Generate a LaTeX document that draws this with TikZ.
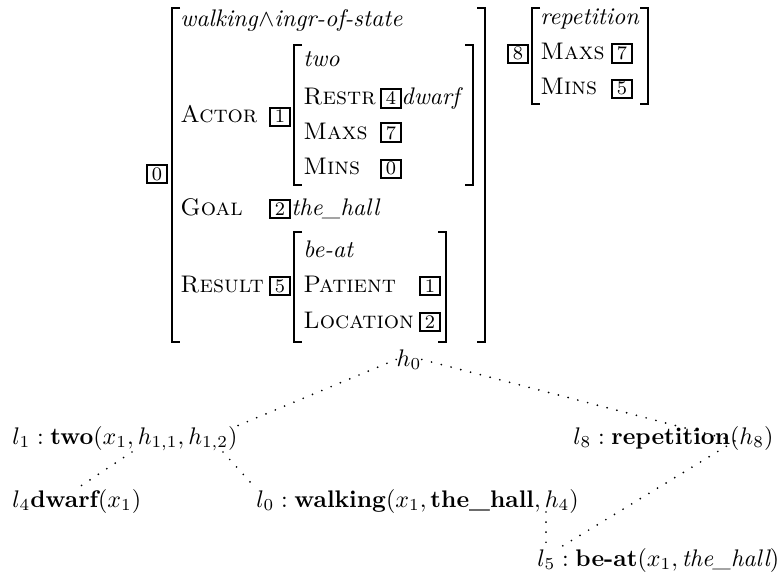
\documentclass[tikz,border=0pt]{standalone}
\usetikzlibrary{calc}
\begin{document}
\begin{tikzpicture}[x=0.41667pt,y=-0.41667pt,
  txt/.style={inner sep=0pt, anchor=base west},
  tag/.style={draw, line width=0.85pt, inner xsep=1.9pt, inner ysep=1.1pt, font=\footnotesize, anchor=base},
  brk/.style={line width=0.5pt},
  con/.style={line width=0.8pt, dash pattern=on 0pt off 4.2pt, line cap=round}]
\useasboundingbox (0,0) rectangle (782,577);

% ---------- main AVM ----------
\draw[brk] (180,8) -- (172,8) -- (172,342) -- (180,342);
\draw[brk] (477,8) -- (485,8) -- (485,342) -- (477,342);
\node[tag] (t0) at (157,180) {0};
\node[txt] (w) at (180,27) {\textit{walking}$\wedge$\textit{ingr-of-state}};
\node[txt] (actor) at (180,123) {\textsc{Actor}};
\node[tag] (t1) at (280,123) {1};
% inner AVM (two)
\draw[brk] (302,45) -- (294,45) -- (294,185) -- (302,185);
\draw[brk] (465,45) -- (473,45) -- (473,185) -- (465,185);
\node[txt] (two) at (303,67) {\textit{two}};
\node[txt] (restr) at (303,105) {\textsc{Restr}};
\node[tag] (t4) at (391,105) {4};
\node[txt] (dwarf) at (401,105) {\textit{dwarf}};
\node[txt] (maxs) at (303,139) {\textsc{Maxs}};
\node[tag] (t7) at (391,139) {7};
\node[txt] (mins) at (303,175) {\textsc{Mins}};
\node[tag] (t0b) at (391,175) {0};
% goal
\node[txt] (goal) at (180,215) {\textsc{Goal}};
\node[tag] (t2) at (280,215) {2};
\node[txt] (hall) at (291,215) {\textit{the\_hall}};
% result
\node[txt] (result) at (180,292) {\textsc{Result}};
\node[tag] (t5) at (280,292) {5};
\draw[brk] (302,232) -- (294,232) -- (294,342) -- (302,342);
\draw[brk] (438,232) -- (446,232) -- (446,342) -- (438,342);
\node[txt] (beat) at (303,257) {\textit{be-at}};
\node[txt] (patient) at (303,292) {\textsc{Patient}};
\node[tag] (t1b) at (430,292) {1};
\node[txt] (location) at (303,328) {\textsc{Location}};
\node[tag] (t2b) at (430,328) {2};

% ---------- right AVM ----------
\node[tag] (t8) at (518,60) {8};
\draw[brk] (540,8) -- (532,8) -- (532,104) -- (540,104);
\draw[brk] (640,8) -- (648,8) -- (648,104) -- (640,104);
\node[txt] (rep) at (540,25) {\textit{repetition}};
\node[txt] (maxs2) at (540,60) {\textsc{Maxs}};
\node[tag] (t7b) at (622,60) {7};
\node[txt] (mins2) at (540,95) {\textsc{Mins}};
\node[tag] (t5b) at (622,95) {5};

% ---------- tree ----------
\node[inner sep=0pt, anchor=base] (h0) at (409,366) {$h_0$};
\node[txt] (l1) at (12,444) {$l_1 : \textbf{two}(x_1, h_{1,1}, h_{1,2})$};
\node[txt] (l8) at (573,444) {$l_8 : \textbf{repetition}(h_8)$};
\node[txt] (l4) at (12,507) {$l_4\textbf{dwarf}(x_1)$};
\node[txt] (l0) at (256,507) {$l_0 : \textbf{walking}(x_1, \textbf{the\_hall}, h_4)$};
\node[txt] (l5) at (537,566) {$l_5 : \textbf{be-at}(x_1, \textit{the\_hall})$};

\coordinate (h11) at (132,452);
\coordinate (h12) at (223,452);
\coordinate (h8) at (735,441);
\coordinate (h4) at (546,512);

\draw[con] (h0.west) -- (l1.north east);
\draw[con] (h0.east) -- (h8);
\draw[con] (h11) -- (l4.north);
\draw[con] (h12) -- (l0.north west);
\draw[con] (h8) -- ($(l5.north west)+(23,0)$);
\draw[con] (h4) -- (h4 |- l5.north);
\end{tikzpicture}
\end{document}
